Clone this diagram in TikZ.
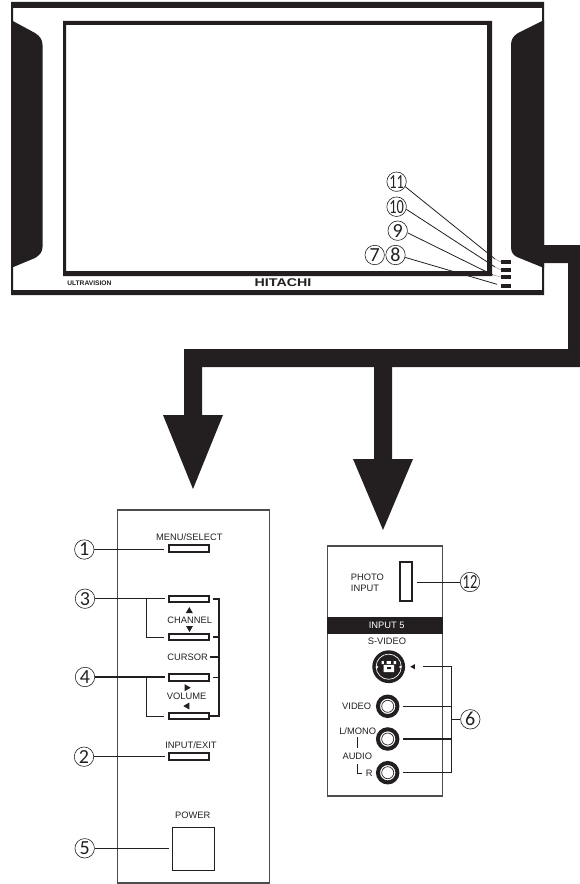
\documentclass[tikz,border=0pt]{standalone}
\usepackage{fontspec}
\usepackage{graphicx}
\setmainfont{Liberation Sans}
\newfontfamily\digitfont{Carlito}
\usetikzlibrary{shapes.geometric, positioning}
\definecolor{tv_black}{RGB}{35,31,32}
\tikzset{
  panel_font/.style = {font=\fontsize{7}{7.7}\selectfont},
  num_font/.style = {font=\digitfont\fontsize{15}{15}\selectfont},
  ink/.style = {text=tv_black}
}
\tikzset{
  label/.style = {panel_font, ink, inner sep=0, align=center},
  num/.style = {num_font, ink, draw=tv_black, line width=0.45pt, circle, inner sep=0, minimum size=14.6pt},
  button/.style = {draw=tv_black, line width=1.5pt, fill=white, inner sep=0, minimum width=30.5pt, minimum height=4.8pt},
  led/.style = {fill=tv_black, inner sep=0, minimum width=6.8pt},
  leader/.style = {draw=tv_black, line width=0.6pt},
  bracket/.style = {draw=tv_black, line width=1.4pt},
  tick/.style = {draw=black!45, line width=0.3pt},
  outline/.style = {draw=black!70, line width=0.8pt},
  pointer/.style = {fill=tv_black, regular polygon, regular polygon sides=3, inner sep=0, minimum size=6pt},
  jack/.style = {circle, draw=tv_black, line width=3pt, fill=white, inner sep=0, minimum size=14.6pt},
  jack_core/.style = {circle, draw=tv_black, line width=0.5pt, inner sep=0, minimum size=9pt}
}
\begin{document}
\begin{tikzpicture}[x=0.75pt, y=-0.75pt]
        \useasboundingbox (0,0) rectangle (580,884);

        % Television
        \fill[tv_black, even odd rule] (11,2) rectangle (544,295) (13,8) rectangle (542,290);
        \fill[tv_black, even odd rule] (63,21) rectangle (492,276) (66,25) rectangle (487,271);
        \fill[tv_black] (11,20) -- (35,33) .. controls (40,36) and (42.5,40) .. (42.5,45)
            -- (42.5,247) .. controls (42.5,252) and (40,255) .. (35,258) -- (11,268) -- cycle;
        \fill[tv_black] (544,20) -- (518,33) .. controls (513,36) and (511,40) .. (511,45)
            -- (511,247) .. controls (511,252) and (513,255) .. (517,257) -- (544,268) -- cycle;
        \node[ink, inner sep=0, font=\fontsize{5}{5}\selectfont\bfseries, anchor=west] (ultravision) at (67,283) {ULTRAVISION};
        \node[ink, inner sep=0, font=\fontsize{8.4}{8.4}\selectfont\bfseries] (hitachi) at (283,283) {\scalebox{1.27}[1]{HITACHI}};

        % Front lamps
        \node[led, minimum height=3.2pt] (led_11) at (506,262) {};
        \node[led, minimum height=3.2pt] (led_10) at (506,270) {};
        \node[led, minimum height=3.2pt] (led_9) at (506,277) {};
        \node[led, minimum height=3.7pt] (led_8) at (506,286) {};
        \coordinate (end_11) at (495,259);
        \coordinate (end_10) at (495,267);
        \coordinate (end_9) at (493,275);
        \coordinate (end_8) at (497,284.3);
        \node[num] (num_11) at (396.6,181.7) {\scalebox{.72}[1]{11}};
        \node[num] (num_10) at (396.6,206.7) {\scalebox{.72}[1]{10}};
        \node[num] (num_9) at (397.7,230.7) {9};
        \node[num] (num_8) at (395.5,255) {8};
        \node[num] (num_7) at (374.7,255) {7};
        \draw[leader] (num_11.330)--(end_11);
        \draw[leader] (num_10.345)--(end_10);
        \draw[leader] (num_9.348)--(end_9);
        \draw[leader] (num_8.346)--(end_8);
        \draw[tick] (end_11)--(led_11.west);
        \draw[tick] (end_10)--(led_10.west);
        \draw[tick] (end_9)--(led_9.west);

        % Big arrows
        \fill[tv_black] (544,245) -- (580,245) -- (580,367) -- (202,367) -- (202,415) -- (223,415)
            -- (193,489) -- (163,415) -- (184,415) -- (184,349) -- (568,349) -- (568,263) -- (544,263) -- cycle;
        \fill[tv_black] (374,366) -- (374,459) -- (353,459) -- (383,530) -- (413,459) -- (392,459) -- (392,366) -- cycle;

        % Control panel
        \draw[outline] (117.7,510) rectangle (269.3,883);
        \node[button] (btn_menu) at (189,548.5) {};
        \node[label] (lbl_menu) at (189.3,536.7) {MENU/SELECT};
        \node[button] (btn_ch_up) at (189,599) {};
        \node[pointer] (tri_up) at (189.3,611) {};
        \node[label] (lbl_channel) at (189.7,620) {CHANNEL};
        \node[pointer, shape border rotate=180] (tri_down) at (189.5,628) {};
        \node[button] (btn_ch_down) at (189,637) {};
        \node[label] (lbl_cursor) at (187.7,657.3) {CURSOR};
        \node[button] (btn_vol_up) at (189,677.5) {};
        \node[pointer, shape border rotate=-90] (tri_right) at (186.7,687.7) {};
        \node[label] (lbl_volume) at (186.7,696.7) {VOLUME};
        \node[pointer, shape border rotate=90] (tri_left) at (187.3,706) {};
        \node[button] (btn_vol_down) at (189,716) {};
        \node[label] (lbl_input) at (191,745) {INPUT/EXIT};
        \node[button] (btn_input) at (189,756.3) {};
        \node[label] (lbl_power) at (192.7,815.7) {POWER};
        \node[draw=tv_black, line width=0.8pt, inner sep=0, minimum size=32pt] (btn_power) at (193.5,848.8) {};

        % Control panel numbers
        \node[num] (num_1) at (84.3,549.5) {1};
        \node[num] (num_3) at (85,598.7) {3};
        \node[num] (num_4) at (85,677) {4};
        \node[num] (num_2) at (84,756.7) {2};
        \node[num] (num_5) at (84.7,848.3) {5};
        \coordinate (fork_3) at (146.7,598.7);
        \coordinate (fork_4) at (146.7,677);
        \coordinate (rail_top) at (218.7,599);
        \coordinate (rail_bottom) at (218.7,716);

        % Arrows and lines
        \draw[leader, shorten >=3pt] (num_1.east)--(num_1.east -| btn_menu.west);
        \draw[leader, line width=0.8pt, shorten >=2pt] (num_3.east)--(num_3.east -| btn_ch_up.west);
        \draw[leader, shorten >=3pt] (fork_3) |- (btn_ch_down.west);
        \draw[leader, line width=0.8pt, shorten >=2pt] (num_4.east)--(num_4.east -| btn_vol_up.west);
        \draw[leader, shorten >=3pt] (fork_4) |- (btn_vol_down.west);
        \draw[leader, line width=0.8pt, shorten >=2pt] (num_2.east)--(num_2.east -| btn_input.west);
        \draw[leader, shorten >=2pt] (num_5.east)--(num_5.east -| btn_power.west);
        \draw[bracket, shorten <=2pt] (btn_ch_up.east) -- (rail_top) -- (rail_bottom) -- (btn_vol_down.east);
        \draw[bracket, shorten <=2pt] (btn_ch_down.east)--(btn_ch_down.east -| rail_top);
        \draw[bracket, shorten <=2pt] (btn_vol_up.east)--(btn_vol_up.east -| rail_top);
        \draw[bracket, shorten <=1pt] (lbl_cursor.east)--(lbl_cursor.east -| rail_top);

        % Input panel
        \draw[outline] (327.3,546) rectangle (442.7,796);
        \node[label, align=left, anchor=west] (lbl_photo) at (350.7,582.8) {PHOTO\\INPUT};
        \node[draw=tv_black, line width=1.4pt, inner sep=0, minimum width=9pt, minimum height=29pt] (slot_photo) at (406,581.5) {};
        \node[num] (num_12) at (470,582) {\scalebox{.72}[1]{12}};
        \fill[tv_black] (327.3,617.3) rectangle (442.7,634);
        \node[label, text=white] (lbl_input_5) at (386.7,625.7) {INPUT 5};
        \node[label] (lbl_svideo) at (387,641.7) {S-VIDEO};

        % Sockets
        \node[circle, fill=tv_black, inner sep=0, minimum size=24.6pt] (jack_svideo) at (388.7,666.7) {};
        \draw[white, line width=0.5pt] (jack_svideo) circle (12.6);
        \fill[white] (381.5,661) rectangle (396,664) (383.5,665) rectangle (394,672);
        \fill[tv_black] (384,661) rectangle (386.5,664) (391,661) rectangle (393.5,664) (387,667) rectangle (391,669);
        \fill[white] (377,667) circle (1.3) (400.4,667) circle (1.3);
        \node[pointer, minimum size=4.5pt, shape border rotate=90] (tri_svideo) at (413.3,666.7) {};
        \node[jack] (jack_video) at (387.7,706.3) {};
        \node[jack_core] at (jack_video) (core_video) {};
        \node[jack] (jack_left) at (387.7,739) {};
        \node[jack_core] at (jack_left) (core_left) {};
        \node[jack] (jack_right) at (387.7,772.7) {};
        \node[jack_core] at (jack_right) (core_right) {};
        \node[label] (lbl_video) at (356.7,706.7) {VIDEO};
        \node[label] (lbl_mono) at (357.7,730.7) {L/MONO};
        \node[label] (lbl_audio) at (357.3,756.7) {AUDIO};
        \node[label] (lbl_right) at (369.3,773.5) {R};
        \node[num] (num_6) at (470.3,719.3) {6};
        \coordinate (rail_sockets) at (451.3,719.3);

        % Input panel lines
        \draw[leader, shorten >=4pt, shorten <=2pt] (lbl_mono.south -| lbl_audio)--(lbl_audio.north);
        \draw[leader, shorten >=3pt] ([yshift=-3pt]lbl_audio.south) |- (lbl_right.west);
        \draw[leader, shorten <=3pt] (slot_photo.east |- num_12)--(num_12.west);
        \draw[leader, line width=0.8pt, shorten <=6pt] (tri_svideo.east |- jack_svideo) -| (rail_sockets);
        \draw[leader, line width=0.8pt] (rail_sockets)--(num_6.west);
        \draw[leader, line width=0.8pt, shorten <=3pt] (jack_video.east)--(jack_video.east -| rail_sockets);
        \draw[leader, line width=0.8pt, shorten <=3pt] (jack_left.east)--(jack_left.east -| rail_sockets);
        \draw[leader, line width=0.8pt, shorten <=3pt] (jack_right.east) -| (rail_sockets);
\end{tikzpicture}
\end{document}
